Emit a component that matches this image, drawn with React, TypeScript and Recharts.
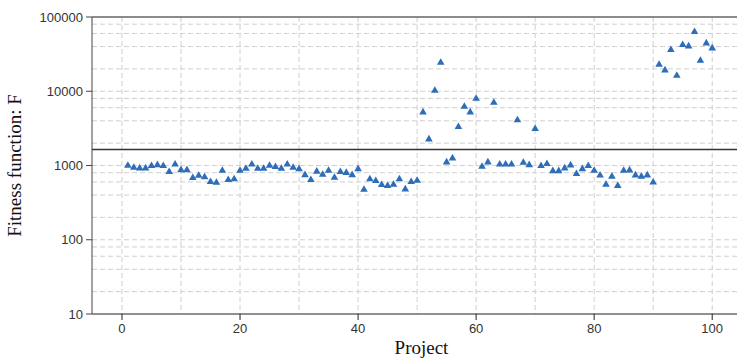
import { ScatterChart, Scatter, XAxis, YAxis, CartesianGrid, ReferenceLine } from 'recharts'

// fitness value per project (projects 1..100)
const fitness = [
  1010, 950, 930, 930, 1000, 1030, 1000, 830, 1050, 880,
  880, 690, 740, 705, 610, 595, 865, 650, 665, 865,
  920, 1050, 920, 920, 1010, 970, 920, 1050, 950, 910,
  755, 650, 840, 765, 865, 695, 830, 810, 755, 910,
  480, 665, 630, 555, 540, 560, 665, 485, 610, 635,
  5290, 2290, 10330, 24600, 1120, 1270, 3350, 6290, 5290, 8060,
  980, 1120, 7120, 1050, 1050, 1050, 4130, 1110, 1030, 3150,
  1000, 1065, 855, 855, 930, 1020, 780, 910, 1000, 865,
  745, 560, 720, 540, 865, 875, 750, 720, 750, 600,
  23130, 19450, 36500, 16450, 42630, 40900, 63800, 26200, 44900, 38500
]

const xTicks = [0, 20, 40, 60, 80, 100]
const yTicks = [10, 100, 1000, 10000, 100000]
const xGrid = [0, 10, 20, 30, 40, 50, 60, 70, 80, 90, 100]
const yGrid = [
  20, 40, 60, 80, 100,
  200, 400, 600, 800, 1000,
  2000, 4000, 6000, 8000, 10000,
  20000, 40000, 60000, 80000
]
const threshold = 1640

const points = fitness.map((f, i) => ({ project: i + 1, f }))

const font = 'Liberation Sans, Arial, sans-serif'
const serif = 'Liberation Serif, Times New Roman, serif'

// small filled triangle centred on the point
const Triangle = (props: any) => {
  const { cx, cy } = props
  if (cx == null || cy == null) return null
  return (
    <path
      d={`M${cx},${cy - 4} L${cx + 3.8},${cy + 2.6} L${cx - 3.8},${cy + 2.6} Z`}
      fill="#2e6db8"
    />
  )
}

export default function App() {
  return (
    <div style={{ position: 'absolute', left: 0, top: 0, background: '#fff' }}>
      <ScatterChart width={737} height={358} margin={{ top: 17, right: 0, bottom: 0, left: 0 }}>
        <CartesianGrid
          stroke="#cfcfcf"
          strokeDasharray="5 3"
          horizontal={false}
          verticalValues={xGrid}
        />
        {yGrid.map((v) => (
          <ReferenceLine key={v} y={v} stroke="#cfcfcf" strokeDasharray="5 3" />
        ))}
        <XAxis
          type="number"
          dataKey="project"
          domain={[-5.08, 104.2]}
          ticks={xTicks}
          height={44}
          tickSize={6}
          tickMargin={4}
          stroke="#222"
          tick={{ fill: '#333', fontSize: 13, fontFamily: font }}
          label={{
            value: 'Project',
            position: 'insideBottom',
            offset: 4,
            dx: 7,
            style: { fill: '#111', fontSize: 19, fontFamily: serif }
          }}
        />
        <YAxis
          type="number"
          dataKey="f"
          scale="log"
          domain={[10, 100000]}
          ticks={yTicks}
          width={92}
          tickSize={6}
          tickMargin={3}
          stroke="#444"
          tick={{ fill: '#333', fontSize: 13, fontFamily: font }}
          label={{
            value: 'Fitness function: F',
            angle: -90,
            position: 'insideLeft',
            offset: 0,
            dx: 14,
            style: { textAnchor: 'middle', fill: '#111', fontSize: 19, fontFamily: serif }
          }}
        />
        <ReferenceLine y={100000} stroke="#666" strokeWidth={1.5} />
        <ReferenceLine y={threshold} stroke="#333" strokeWidth={1.5} />
        <Scatter data={points} fill="#2e6db8" shape={Triangle} isAnimationActive={false} />
      </ScatterChart>
    </div>
  )
}
